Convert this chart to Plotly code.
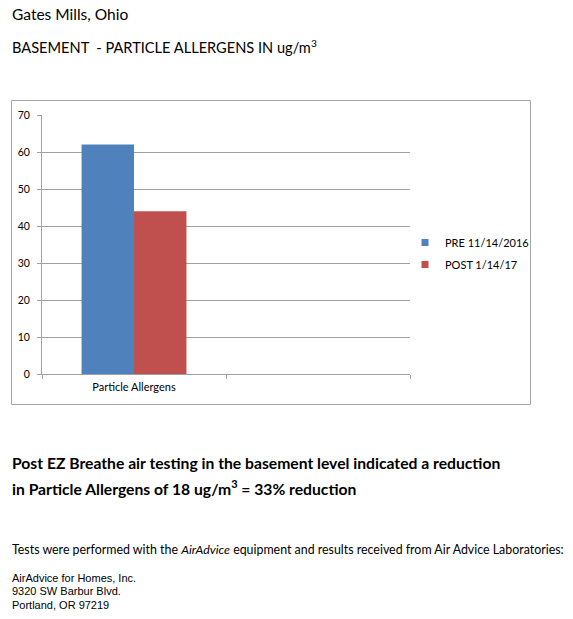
import plotly.graph_objects as go

W, H = 573, 619

categories = ["Particle Allergens", " "]
pre_values = [62, None]
post_values = [44, None]
series_names = ["PRE 11/14/2016", "POST 1/14/17"]
y_ticks = [0, 10, 20, 30, 40, 50, 60, 70]

blue = "#4f81bd"
red = "#c0504d"
grey = "#a0a0a0"
calibri = "Lato, Open Sans, sans-serif"
arial = "Liberation Sans, Arial, sans-serif"


def px_x(x):
    return x / W


def px_y(y):
    return 1 - y / H


fig = go.Figure()
fig.add_trace(go.Bar(x=categories, y=pre_values, marker_color=blue,
                     marker_line_width=0, showlegend=False))
fig.add_trace(go.Bar(x=categories, y=post_values, marker_color=red,
                     marker_line_width=0, showlegend=False))

# legend entries with small square keys
for name, col in zip(series_names, [blue, red]):
    fig.add_trace(go.Scatter(x=[None], y=[None], mode="markers", name=name,
                             legendgroup=name,
                             marker=dict(symbol="square", size=7, color=col)))

fig.update_layout(
    width=W, height=H,
    margin=dict(l=0, r=0, t=0, b=0),
    paper_bgcolor="white", plot_bgcolor="white",
    barmode="group", bargap=0.43, bargroupgap=0,
    font=dict(family=calibri, color="black"),
    showlegend=True,
    legend=dict(x=px_x(405), y=px_y(228), xanchor="left", yanchor="top",
                font=dict(size=11, family=calibri), tracegroupgap=3,
                bgcolor="rgba(0,0,0,0)"),
    xaxis=dict(domain=[px_x(42), px_x(410)], range=[-0.5, 1.5],
               type="category", tickson="boundaries", ticks="outside",
               ticklen=4, tickcolor=grey, showline=True, linecolor=grey,
               showgrid=False, automargin=False, ticklabelstandoff=3,
               tickfont=dict(size=11, family=calibri)),
    yaxis=dict(domain=[px_y(374), px_y(115)], range=[0, 70],
               tickvals=y_ticks, ticks="outside", ticklen=4, tickcolor=grey,
               showline=True, linecolor=grey, showgrid=True, gridcolor=grey,
               zeroline=False, automargin=False, ticklabelstandoff=5,
               tickfont=dict(size=10.5, family=calibri)),
)

# chart frame
fig.add_shape(type="rect", xref="paper", yref="paper",
              x0=px_x(11.5), x1=px_x(530.5), y0=px_y(404.5), y1=px_y(100.5),
              line=dict(color="#a6a6a6", width=1), layer="below")


def note(text, x, y, size, family=calibri):
    fig.add_annotation(text=text, xref="paper", yref="paper",
                       x=px_x(x), y=px_y(y), xanchor="left", yanchor="middle",
                       showarrow=False, align="left",
                       font=dict(size=size, family=family, color="black"))


note("Gates Mills, Ohio", 10, 14, 15.5)
note("BASEMENT\u00a0 - PARTICLE ALLERGENS IN ug/m<sup>3</sup>", 10, 46, 14.6)
note("<b>Post EZ Breathe air testing in the basement level indicated a reduction</b>",
     10, 463, 15.7)
note("<b>in Particle Allergens of 18 ug/m<sup>3</sup> = 33% reduction</b>",
     10, 487, 15.7)
note("Tests were performed with the <i>AirAdvice</i> equipment and results "
     "received from Air Advice Laboratories:", 10, 549, 12.4)
note("AirAdvice for Homes, Inc.", 10, 578, 11, arial)
note("9320 SW Barbur Blvd.", 10, 591, 11, arial)
note("Portland, OR 97219", 10, 605, 11, arial)

# drop the page's default 8px body margin so the figure fills the window
fig.write_html("out.html", config={"displayModeBar": False},
               post_script="document.body.style.margin='0';")
